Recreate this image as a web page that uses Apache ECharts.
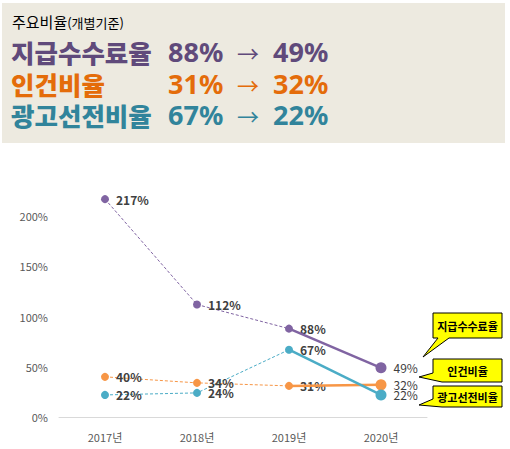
<!DOCTYPE html>
<html lang="ko">
<head>
    <meta charset="utf-8">
    <title>주요비율</title>
    <style>
        body { margin: 0; width: 510px; height: 449px; position: relative; overflow: hidden; background: #fff;
               font-family: "Noto Sans CJK KR", "Noto Sans", sans-serif; }
        #chart { position: absolute; left: 0; top: 0; width: 510px; height: 449px; }
        #summary { position: absolute; left: 2px; top: 3px; width: 503px; height: 140px; background: #EDEAE0; z-index: 2; }
        #summary .title { position: absolute; left: 10px; top: 9px; font-size: 15px; line-height: 20px; color: #000; }
        #summary .title small { font-size: 13px; }
        .row { position: absolute; left: 0; height: 28px; width: 100%; font-weight: 900; line-height: 28px; }
        .row span { position: absolute; top: 0; white-space: nowrap; line-height: 28px; }
        .row .name { font-size: 25.5px; }
        .row .num { font-size: 27px; font-family: "Noto Sans", sans-serif; font-weight: bold; }
        .row .arrow { font-weight: normal; font-size: 22px; }
    </style>
</head>
<body>
<div id="summary">
    <div class="title">주요비율<small>(개별기준)</small></div>
</div>
<div id="chart"></div>
<script src="https://cdn.jsdelivr.net/npm/echarts@6/dist/echarts.min.js"></script>
<script type="text/javascript">

// 데이터
var years = ['2017년', '2018년', '2019년', '2020년'];
var feeRate = [217, 112, 88, 49];     // 지급수수료율
var laborRate = [40, 34, 31, 32];     // 인건비율
var adRate = [22, 24, 67, 22];        // 광고선전비율
var seriesNames = ['지급수수료율', '인건비율', '광고선전비율'];
var yTicks = [0, 50, 100, 150, 200];

var lineColors = ['#8064A2', '#F79646', '#4BACC6'];
var textColors = ['#604A7B', '#E46C0A', '#31849B'];
var allData = [feeRate, laborRate, adRate];

// 상단 요약 (2019년 → 2020년)
var rowTops = [35, 67, 98];
allData.forEach(function (arr, k) {
    var row = document.createElement('div');
    row.className = 'row';
    row.style.top = rowTops[k] + 'px';
    row.style.color = textColors[k];
    row.innerHTML =
        '<span class="name" style="left:9px">' + seriesNames[k] + '</span>' +
        '<span class="num" style="left:166px">' + arr[2] + '%</span>' +
        '<span class="arrow" style="left:235px">→</span>' +
        '<span class="num" style="left:271px">' + arr[3] + '%</span>';
    document.getElementById('summary').appendChild(row);
});

var chart = echarts.init(document.getElementById('chart'), null, { renderer: 'svg' });

var labelStyle = {
    show: true,
    position: 'right',
    distance: 7,
    fontSize: 12,
    fontWeight: 'bold',
    color: '#404040',
    fontFamily: '"Noto Sans CJK KR", sans-serif'
};

var series = [];
allData.forEach(function (arr, k) {
    // 2017~2019 점선
    series.push({
        name: seriesNames[k] + '_prev',
        type: 'line',
        data: arr.map(function (v, i) { return i <= 2 ? v : '-'; }),
        symbol: 'circle',
        symbolSize: 8,
        itemStyle: { color: lineColors[k] },
        lineStyle: { color: lineColors[k], width: 1, type: [3, 2] },
        label: Object.assign({}, labelStyle, { formatter: '{c}%' }),
        z: 2
    });
    // 2019~2020 실선
    series.push({
        name: seriesNames[k],
        type: 'line',
        data: arr.map(function (v, i) { return i >= 2 ? v : '-'; }),
        symbol: 'circle',
        symbolSize: function (v, p) { return p.dataIndex === 3 ? 11 : 0; },
        itemStyle: { color: lineColors[k] },
        lineStyle: { color: lineColors[k], width: 2.5 },
        label: Object.assign({}, labelStyle, {
            fontWeight: 'normal',
            formatter: function (p) { return p.dataIndex === 3 ? p.value + '%' : ''; }
        }),
        z: 3
    });
});

// 말풍선 범례
function callout(points, cx, cy, text) {
    return [{
        type: 'polygon',
        shape: { points: points },
        style: { fill: '#FFFF00', stroke: '#000', lineWidth: 1 },
        z: 10
    }, {
        type: 'text',
        x: cx, y: cy,
        style: {
            text: text, fill: '#000', font: 'bold 11px "Noto Sans CJK KR", sans-serif',
            align: 'center', verticalAlign: 'middle'
        },
        z: 11
    }];
}

var graphics = [].concat(
    callout([[433, 313], [502, 313], [502, 338], [449, 338], [423, 357], [438, 338], [433, 338]], 467.5, 325.5, seriesNames[0]),
    callout([[433, 359], [502, 359], [502, 382], [442, 382], [419, 377], [433, 373]], 467.5, 370.5, seriesNames[1]),
    callout([[433, 386], [502, 386], [502, 407], [442, 407], [419, 405], [433, 399]], 467.5, 396.5, seriesNames[2])
);

var option = {
    animation: false,
    textStyle: { fontFamily: '"Noto Sans CJK KR", sans-serif' },
    grid: { left: 59, right: 83, top: 166, bottom: 32 },
    xAxis: {
        type: 'category',
        data: years,
        boundaryGap: true,
        axisLine: { lineStyle: { color: '#D9D9D9', width: 1 } },
        axisTick: { show: false },
        axisLabel: { color: '#595959', fontSize: 11, margin: 14 }
    },
    yAxis: {
        type: 'value',
        min: 0,
        max: 250,
        interval: 50,
        splitLine: { show: false },
        axisLine: { show: false },
        axisTick: { show: false },
        axisLabel: {
            color: '#595959', fontSize: 11, margin: 11, showMaxLabel: false,
            formatter: function (v) { return yTicks.indexOf(v) >= 0 ? v + '%' : ''; }
        }
    },
    series: series,
    graphic: graphics
};
chart.setOption(option);

</script>
</body>
</html>
